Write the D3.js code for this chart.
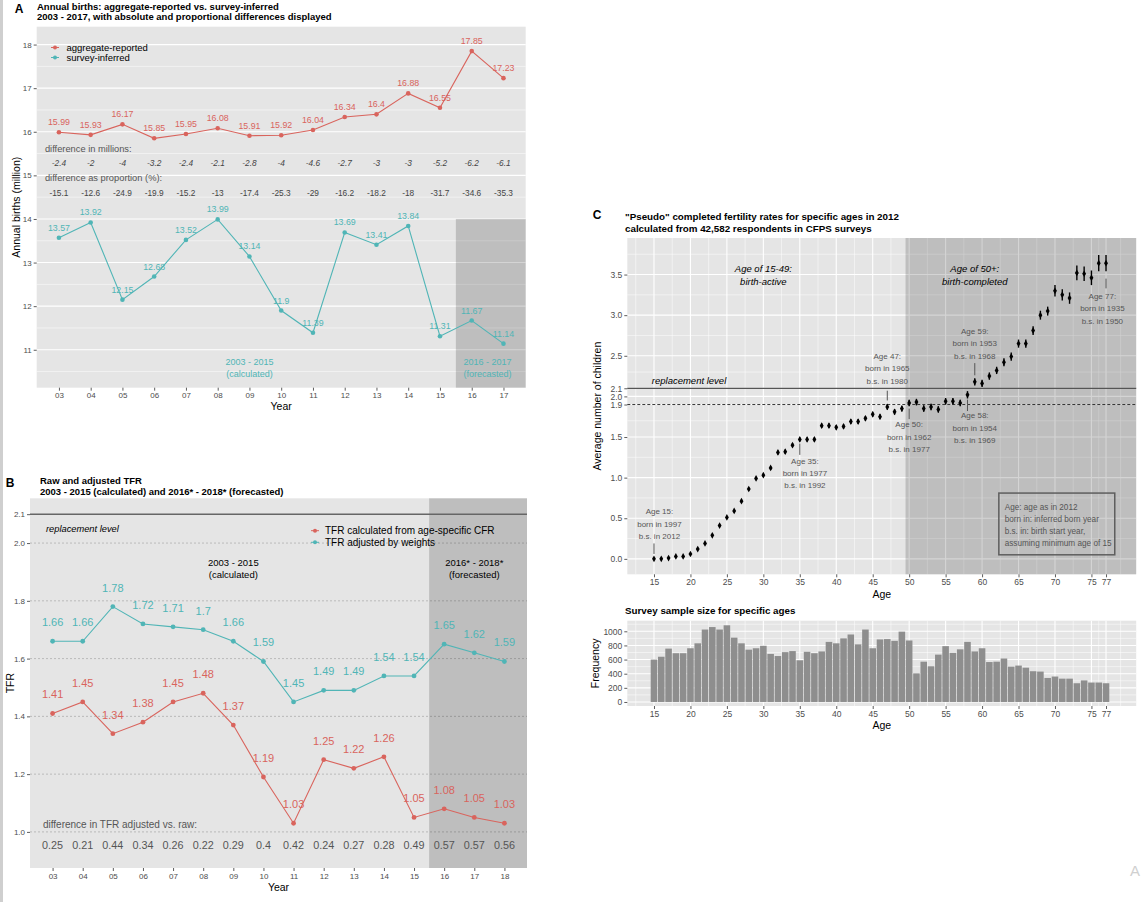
<!DOCTYPE html>
<html><head><meta charset="utf-8">
<script src="https://cdn.jsdelivr.net/npm/d3@7"></script>
<style>
body{margin:0;background:#fff;}
svg{display:block;font-family:"Liberation Sans",Arial,Helvetica,sans-serif;}
</style></head><body>
<svg id="c" width="1141" height="902"></svg>
<script>
// ---------------- DATA ----------------
const yearsA = [3,4,5,6,7,8,9,10,11,12,13,14,15,16,17];
const yearLabelsA = ["03","04","05","06","07","08","09","10","11","12","13","14","15","16","17"];
const aggregateReported = [15.99,15.93,16.17,15.85,15.95,16.08,15.91,15.92,16.04,16.34,16.4,16.88,16.55,17.85,17.23];
const surveyInferred = [13.57,13.92,12.15,12.68,13.52,13.99,13.14,11.9,11.39,13.69,13.41,13.84,11.31,11.67,11.14];
const diffMillions = ["-2.4","-2","-4","-3.2","-2.4","-2.1","-2.8","-4","-4.6","-2.7","-3","-3","-5.2","-6.2","-6.1"];
const diffPercent = ["-15.1","-12.6","-24.9","-19.9","-15.2","-13","-17.4","-25.3","-29","-16.2","-18.2","-18","-31.7","-34.6","-35.3"];
const yTicksA = [11,12,13,14,15,16,17,18];

const yearsB = [3,4,5,6,7,8,9,10,11,12,13,14,15,16,17,18];
const yearLabelsB = ["03","04","05","06","07","08","09","10","11","12","13","14","15","16","17","18"];
const tfrRaw = [1.41,1.45,1.34,1.38,1.45,1.48,1.37,1.19,1.03,1.25,1.22,1.26,1.05,1.08,1.05,1.03];
const tfrAdjusted = [1.66,1.66,1.78,1.72,1.71,1.7,1.66,1.59,1.45,1.49,1.49,1.54,1.54,1.65,1.62,1.59];
const tfrDiff = ["0.25","0.21","0.44","0.34","0.26","0.22","0.29","0.4","0.42","0.24","0.27","0.28","0.49","0.57","0.57","0.56"];
const yTicksB = [1.0,1.2,1.4,1.6,1.8,2.0,2.1];

const ages = [15,16,17,18,19,20,21,22,23,24,25,26,27,28,29,30,31,32,33,34,35,36,37,38,39,40,41,42,43,44,45,46,47,48,49,50,51,52,53,54,55,56,57,58,59,60,61,62,63,64,65,66,67,68,69,70,71,72,73,74,75,76,77];
const cfr = [0.00,0.00,0.01,0.03,0.03,0.06,0.12,0.19,0.29,0.41,0.51,0.59,0.71,0.86,0.99,1.03,1.12,1.31,1.32,1.40,1.47,1.47,1.47,1.64,1.64,1.62,1.63,1.69,1.69,1.73,1.78,1.75,1.87,1.81,1.85,1.92,1.93,1.85,1.87,1.84,1.94,1.94,1.92,2.02,2.18,2.16,2.25,2.32,2.42,2.49,2.65,2.65,2.81,3.00,3.05,3.30,3.25,3.21,3.52,3.51,3.46,3.64,3.64];
const cfrErr = [0.008,0.008,0.01,0.01,0.01,0.012,0.012,0.015,0.015,0.015,0.018,0.018,0.02,0.02,0.02,0.022,0.022,0.025,0.025,0.025,0.025,0.025,0.025,0.028,0.028,0.028,0.028,0.03,0.03,0.03,0.03,0.03,0.035,0.035,0.035,0.04,0.04,0.04,0.04,0.04,0.04,0.04,0.04,0.045,0.045,0.045,0.045,0.045,0.05,0.05,0.05,0.05,0.055,0.055,0.055,0.07,0.07,0.07,0.09,0.09,0.09,0.1,0.1];
const sampleSize = [600,640,755,690,690,760,830,1025,1060,1025,1085,910,830,740,760,795,680,650,705,720,590,710,690,715,850,830,900,955,815,1025,760,885,890,865,995,870,405,570,505,670,790,695,745,850,715,760,565,570,615,500,515,485,435,430,340,360,330,330,265,305,275,275,265];
const ageTicks = [15,20,25,30,35,40,45,50,55,60,65,70,75,77];
const yTicksC = [0,0.5,1.0,1.5,1.9,2.0,2.1,2.5,3.0,3.5];
const yTicksH = [0,200,400,600,800,1000];

const ageNotes = [
  {age:15, tx:15.75, ty:0.58, s1:0.19, s2:0.06, lines:["Age 15:","born in 1997","b.s. in 2012"]},
  {age:35, tx:35.7, ty:1.20, s1:1.42, s2:1.28, lines:["Age 35:","born in 1977","b.s. in 1992"]},
  {age:47, tx:47, ty:2.49, s1:2.07, s2:1.95, lines:["Age 47:","born in 1965","b.s. in 1980"]},
  {age:50, tx:50, ty:1.65, s1:1.85, s2:1.72, lines:["Age 50:","born in 1962","b.s. in 1977"]},
  {age:58, tx:59, ty:1.76, s1:1.96, s2:1.82, lines:["Age 58:","born in 1954","b.s. in 1969"]},
  {age:59, tx:59, ty:2.80, s1:2.41, s2:2.26, lines:["Age 59:","born in 1953","b.s. in 1968"]},
  {age:77, tx:76.5, ty:3.23, s1:3.45, s2:3.33, lines:["Age 77:","born in 1935","b.s. in 1950"]}
];
const keyLines = ["Age: age as in 2012","born in: inferred born year","b.s. in: birth start year,","assuming minimum age of 15"];

// ---------------- STYLE ----------------
const RED = "#D9645D", TEAL = "#50B5B6";
const PANEL = "#E5E5E5", SHADE_OP = 0.17;
const TICKTXT = "#4D4D4D";
const svg = d3.select("#c");

svg.append("rect").attr("x",0).attr("y",0).attr("width",3).attr("height",902).attr("fill","#CFCFCF");

function text(g, x, y, s, o={}) {
  return g.append("text").attr("x",x).attr("y",y).attr("dominant-baseline","central")
    .attr("text-anchor", o.anchor||"middle").attr("font-size", o.size||9)
    .attr("fill", o.fill||"#000").attr("font-weight", o.weight||null)
    .attr("font-style", o.style||null).text(s);
}
function styleAxis(sel, size) {
  sel.select(".domain").remove();
  sel.selectAll(".tick line").attr("stroke","#333").attr("stroke-width",0.8);
  sel.selectAll(".tick text").attr("fill",TICKTXT).attr("font-size",size||8)
     .attr("font-family",'"Liberation Sans",Arial,sans-serif');
}
function hgrid(g, x, y, vals, w) {
  g.selectAll(null).data(vals).enter().append("line")
   .attr("x1",x.range()[0]).attr("x2",x.range()[1])
   .attr("y1",d=>y(d)).attr("y2",d=>y(d)).attr("stroke","#fff").attr("stroke-width",w);
}
function vgrid(g, x, y, vals, w) {
  g.selectAll(null).data(vals).enter().append("line")
   .attr("y1",y.range()[0]).attr("y2",y.range()[1])
   .attr("x1",d=>x(d)).attr("x2",d=>x(d)).attr("stroke","#fff").attr("stroke-width",w);
}

// ================= PANEL A =================
{
  const x = d3.scaleLinear().domain([2.3,17.7]).range([36.7,525.7]);
  const y = d3.scaleLinear().domain([10.13,18.41]).range([387.7,26.7]);
  const g = svg.append("g");
  text(g, 19, 9, "A", {size:12, weight:"bold"});
  text(g, 37, 6, "Annual births: aggregate-reported vs. survey-inferred", {anchor:"start", size:9.5, weight:"bold"});
  text(g, 37, 16.5, "2003 - 2017, with absolute and proportional differences displayed", {anchor:"start", size:9.5, weight:"bold"});
  g.append("rect").attr("x",x.range()[0]).attr("y",y.range()[1]).attr("width",x.range()[1]-x.range()[0])
   .attr("height",y.range()[0]-y.range()[1]).attr("fill",PANEL);
  const minor = d3.range(10.5,18.5,1);
  hgrid(g,x,y,minor,0.5);
  hgrid(g,x,y,yTicksA,1.1);
  g.append("rect").attr("x",x(15.5)).attr("y",y(14)).attr("width",x.range()[1]-x(15.5))
   .attr("height",y.range()[0]-y(14)).attr("fill","#000").attr("opacity",SHADE_OP);

  const series = [[aggregateReported,RED],[surveyInferred,TEAL]];
  series.forEach(([vals,col])=>{
    const line = d3.line().x((d,i)=>x(yearsA[i])).y(d=>y(d));
    g.append("path").datum(vals).attr("d",line).attr("fill","none").attr("stroke",col).attr("stroke-width",1.1);
    g.selectAll(null).data(vals).enter().append("circle").attr("cx",(d,i)=>x(yearsA[i])).attr("cy",d=>y(d)).attr("r",2.3).attr("fill",col);
    g.selectAll(null).data(vals).enter().append("text").attr("x",(d,i)=>x(yearsA[i])).attr("y",d=>y(d)-10)
     .attr("dominant-baseline","central").attr("text-anchor","middle").attr("font-size",8.8).attr("fill",col).text(d=>d);
  });
  text(g, x(2.56), y(15.6), "difference in millions:", {anchor:"start", size:9.3, fill:"#555"});
  yearsA.forEach((yr,i)=>text(g, x(yr), y(15.29), diffMillions[i], {size:8.3, fill:"#444", style:"italic"}));
  text(g, x(2.56), y(14.94), "difference as proportion (%):", {anchor:"start", size:9.3, fill:"#555"});
  yearsA.forEach((yr,i)=>text(g, x(yr), y(14.59), diffPercent[i], {size:8.3, fill:"#444"}));
  text(g, x(9), y(10.72), "2003 - 2015", {size:9, fill:TEAL});
  text(g, x(9), y(10.45), "(calculated)", {size:9, fill:TEAL});
  text(g, x(16.5), y(10.72), "2016 - 2017", {size:9, fill:TEAL});
  text(g, x(16.5), y(10.45), "(forecasted)", {size:9, fill:TEAL});
  [["aggregate-reported",RED,47.5],["survey-inferred",TEAL,57.5]].forEach(([lab,col,yy])=>{
    g.append("line").attr("x1",51).attr("x2",59).attr("y1",yy).attr("y2",yy).attr("stroke",col).attr("stroke-width",1);
    g.append("circle").attr("cx",55).attr("cy",yy).attr("r",2).attr("fill",col);
    text(g, 66.5, yy, lab, {anchor:"start", size:9.5});
  });
  const ax = g.append("g").attr("transform",`translate(0,${y.range()[0]})`)
    .call(d3.axisBottom(x).tickValues(yearsA).tickFormat((d,i)=>yearLabelsA[i]).tickSize(3).tickPadding(2));
  styleAxis(ax, 8);
  const ay = g.append("g").attr("transform",`translate(${x.range()[0]},0)`)
    .call(d3.axisLeft(y).tickValues(yTicksA).tickSize(3).tickPadding(2));
  styleAxis(ay, 8);
  text(g, (x.range()[0]+x.range()[1])/2, 406, "Year", {size:10.5});
  text(g, 16, (y.range()[0]+y.range()[1])/2, "Annual births (million)", {size:10.5})
    .attr("transform",`rotate(-90,16,${(y.range()[0]+y.range()[1])/2})`);
}

// ================= PANEL B =================
{
  const x = d3.scaleLinear().domain([2.25,18.75]).range([30,527]);
  const y = d3.scaleLinear().domain([0.875,2.155]).range([868,498.3]);
  const g = svg.append("g");
  text(g, 10, 483, "B", {size:12, weight:"bold"});
  text(g, 40, 480.5, "Raw and adjusted TFR", {anchor:"start", size:9.5, weight:"bold"});
  text(g, 40, 491, "2003 - 2015 (calculated) and 2016* - 2018* (forecasted)", {anchor:"start", size:9.5, weight:"bold"});
  g.append("rect").attr("x",x.range()[0]).attr("y",y.range()[1]).attr("width",x.range()[1]-x.range()[0])
   .attr("height",y.range()[0]-y.range()[1]).attr("fill",PANEL);
  g.selectAll(null).data([1.0,1.2,1.4,1.6,1.8,2.0]).enter().append("line")
   .attr("x1",x.range()[0]).attr("x2",x.range()[1]).attr("y1",d=>y(d)).attr("y2",d=>y(d))
   .attr("stroke","#AFAFAF").attr("stroke-width",0.8).attr("stroke-dasharray","2,2");
  g.append("rect").attr("x",x(15.5)).attr("y",y.range()[1]).attr("width",x.range()[1]-x(15.5))
   .attr("height",y.range()[0]-y.range()[1]).attr("fill","#000").attr("opacity",SHADE_OP);
  g.append("line").attr("x1",x.range()[0]).attr("x2",x.range()[1]).attr("y1",y(2.1)).attr("y2",y(2.1))
   .attr("stroke","#666").attr("stroke-width",1.4);
  text(g, x(2.78), y(2.048), "replacement level", {anchor:"start", size:9.3, style:"italic"});

  [[tfrRaw,RED],[tfrAdjusted,TEAL]].forEach(([vals,col])=>{
    const line = d3.line().x((d,i)=>x(yearsB[i])).y(d=>y(d));
    g.append("path").datum(vals).attr("d",line).attr("fill","none").attr("stroke",col).attr("stroke-width",1.1);
    g.selectAll(null).data(vals).enter().append("circle").attr("cx",(d,i)=>x(yearsB[i])).attr("cy",d=>y(d)).attr("r",2.4).attr("fill",col);
    g.selectAll(null).data(vals).enter().append("text").attr("x",(d,i)=>x(yearsB[i])).attr("y",d=>y(d)-19)
     .attr("dominant-baseline","central").attr("text-anchor","middle").attr("font-size",11).attr("fill",col).text(d=>d);
  });
  text(g, x(9), y(1.934), "2003 - 2015", {size:9.5});
  text(g, x(9), y(1.89), "(calculated)", {size:9.5});
  text(g, x(17), y(1.934), "2016* - 2018*", {size:9.5});
  text(g, x(17), y(1.89), "(forecasted)", {size:9.5});
  text(g, x(2.68), 824, "difference in TFR adjusted vs. raw:", {anchor:"start", size:10, fill:"#555"});
  yearsB.forEach((yr,i)=>text(g, x(yr), 844.5, tfrDiff[i], {size:10.8, fill:"#555"}));
  [["TFR calculated from age-specific CFR",RED,530.7],["TFR adjusted by weights",TEAL,542.3]].forEach(([lab,col,yy])=>{
    g.append("line").attr("x1",311).attr("x2",319).attr("y1",yy).attr("y2",yy).attr("stroke",col).attr("stroke-width",1);
    g.append("circle").attr("cx",315).attr("cy",yy).attr("r",2).attr("fill",col);
    text(g, 325, yy, lab, {anchor:"start", size:10});
  });
  const ax = g.append("g").attr("transform",`translate(0,${y.range()[0]})`)
    .call(d3.axisBottom(x).tickValues(yearsB).tickFormat((d,i)=>yearLabelsB[i]).tickSize(3).tickPadding(2));
  styleAxis(ax, 8);
  const ay = g.append("g").attr("transform",`translate(${x.range()[0]},0)`)
    .call(d3.axisLeft(y).tickValues(yTicksB).tickFormat(d3.format(".1f")).tickSize(3).tickPadding(2));
  styleAxis(ay, 8);
  text(g, (x.range()[0]+x.range()[1])/2, 887, "Year", {size:10.5});
  text(g, 10, (y.range()[0]+y.range()[1])/2, "TFR", {size:10.5})
    .attr("transform",`rotate(-90,10,${(y.range()[0]+y.range()[1])/2})`);
}

// ================= PANEL C =================
const xC = d3.scaleLinear().domain([11.34,81.14]).range([627.3,1136.2]);
{
  const x = xC;
  const y = d3.scaleLinear().domain([-0.19,3.95]).range([574.3,238]);
  const g = svg.append("g");
  text(g, 597, 215, "C", {size:12, weight:"bold"});
  text(g, 625, 216, "\"Pseudo\" completed fertility rates for specific ages in 2012", {anchor:"start", size:9.8, weight:"bold"});
  text(g, 625, 228, "calculated from 42,582 respondents in CFPS surveys", {anchor:"start", size:9.8, weight:"bold"});
  g.append("rect").attr("x",x.range()[0]).attr("y",y.range()[1]).attr("width",x.range()[1]-x.range()[0])
   .attr("height",y.range()[0]-y.range()[1]).attr("fill",PANEL);
  const minorX = [12.5,17.5,22.5,27.5,32.5,37.5,42.5,47.5,52.5,57.5,62.5,67.5,72.5,76,79];
  const minorY = [0.25,0.75,1.25,1.7,2.3,2.75,3.25,3.75];
  hgrid(g,x,y,minorY,0.5); vgrid(g,x,y,minorX,0.5);
  hgrid(g,x,y,yTicksC,1.1); vgrid(g,x,y,ageTicks,1.1);
  g.append("rect").attr("x",x(49.5)).attr("y",y.range()[1]).attr("width",x.range()[1]-x(49.5))
   .attr("height",y.range()[0]-y.range()[1]).attr("fill","#000").attr("opacity",SHADE_OP);
  g.append("line").attr("x1",x.range()[0]).attr("x2",x.range()[1]).attr("y1",y(2.1)).attr("y2",y(2.1))
   .attr("stroke","#555").attr("stroke-width",1.3);
  g.append("line").attr("x1",x.range()[0]).attr("x2",x.range()[1]).attr("y1",y(1.9)).attr("y2",y(1.9))
   .attr("stroke","#222").attr("stroke-width",0.9).attr("stroke-dasharray","3,2");
  text(g, x(14.7), y(2.19), "replacement level", {anchor:"start", size:9.5, style:"italic"});
  text(g, x(30), y(3.58), "Age of 15-49:", {size:9.5, style:"italic"});
  text(g, x(30), y(3.41), "birth-active", {size:9.5, style:"italic"});
  text(g, x(59), y(3.58), "Age of 50+:", {size:9.5, style:"italic"});
  text(g, x(59), y(3.41), "birth-completed", {size:9.5, style:"italic"});

  ageNotes.forEach(n=>{
    g.append("line").attr("x1",x(n.age)).attr("x2",x(n.age)).attr("y1",y(n.s1)).attr("y2",y(n.s2))
     .attr("stroke","#555").attr("stroke-width",1);
    n.lines.forEach((l,i)=>text(g, x(n.tx), y(n.ty)+i*12.3, l, {size:8, fill:"#555"}));
  });
  g.append("rect").attr("x",x(62.3)).attr("y",y(0.81)).attr("width",x(78.2)-x(62.3)).attr("height",y(0.05)-y(0.81))
   .attr("fill","none").attr("stroke","#5E5E5E").attr("stroke-width",1.5);
  keyLines.forEach((l,i)=>text(g, x(63.1), y(0.81)+14+i*12.3, l, {anchor:"start", size:8.2, fill:"#555"}));

  g.selectAll(null).data(cfr).enter().append("line")
   .attr("x1",(d,i)=>x(ages[i])).attr("x2",(d,i)=>x(ages[i]))
   .attr("y1",(d,i)=>y(d-cfrErr[i])).attr("y2",(d,i)=>y(d+cfrErr[i]))
   .attr("stroke","#000").attr("stroke-width",1.4);
  g.selectAll(null).data(cfr).enter().append("path")
   .attr("d",d3.symbol(d3.symbolDiamond,13))
   .attr("transform",(d,i)=>`translate(${x(ages[i])},${y(d)})`).attr("fill","#000");

  const ax = g.append("g").attr("transform",`translate(0,${y.range()[0]})`)
    .call(d3.axisBottom(x).tickValues(ageTicks).tickSize(3).tickPadding(2));
  styleAxis(ax, 8.5);
  const ay = g.append("g").attr("transform",`translate(${x.range()[0]},0)`)
    .call(d3.axisLeft(y).tickValues(yTicksC).tickFormat(d3.format(".1f")).tickSize(3).tickPadding(2));
  styleAxis(ay, 8.5);
  text(g, (x.range()[0]+x.range()[1])/2, 594, "Age", {size:10.5});
  text(g, 597, (y.range()[0]+y.range()[1])/2, "Average number of children", {size:10.5})
    .attr("transform",`rotate(-90,597,${(y.range()[0]+y.range()[1])/2})`);
}

// ================= HISTOGRAM =================
{
  const x = xC;
  const y = d3.scaleLinear().domain([-57,1150]).range([706,620.7]);
  const g = svg.append("g");
  text(g, 625, 610.5, "Survey sample size for specific ages", {anchor:"start", size:9.8, weight:"bold"});
  g.append("rect").attr("x",x.range()[0]).attr("y",y.range()[1]).attr("width",x.range()[1]-x.range()[0])
   .attr("height",y.range()[0]-y.range()[1]).attr("fill",PANEL);
  hgrid(g,x,y,[100,300,500,700,900,1100],0.5);
  vgrid(g,x,y,[12.5,17.5,22.5,27.5,32.5,37.5,42.5,47.5,52.5,57.5,62.5,67.5,72.5,76,79],0.5);
  hgrid(g,x,y,yTicksH,1.1); vgrid(g,x,y,ageTicks,1.1);
  const bw = x(15.45)-x(14.55);
  g.selectAll(null).data(sampleSize).enter().append("rect")
   .attr("x",(d,i)=>x(ages[i])-bw/2).attr("width",bw)
   .attr("y",d=>y(d)).attr("height",d=>y(0)-y(d)).attr("fill","#8E8E8E");
  const ax = g.append("g").attr("transform",`translate(0,${y.range()[0]})`)
    .call(d3.axisBottom(x).tickValues(ageTicks).tickSize(3).tickPadding(2));
  styleAxis(ax, 8.5);
  const ay = g.append("g").attr("transform",`translate(${x.range()[0]},0)`)
    .call(d3.axisLeft(y).tickValues(yTicksH).tickFormat(d3.format("d")).tickSize(3).tickPadding(2));
  styleAxis(ay, 8.5);
  text(g, (x.range()[0]+x.range()[1])/2, 725, "Age", {size:10.5});
  text(g, 595, (y.range()[0]+y.range()[1])/2, "Frequency", {size:10.5})
    .attr("transform",`rotate(-90,595,${(y.range()[0]+y.range()[1])/2})`);
}
svg.append("text").attr("x",1130).attr("y",876).attr("font-size",15).attr("fill","#D0D0D0").text("A");
</script>
</body></html>
